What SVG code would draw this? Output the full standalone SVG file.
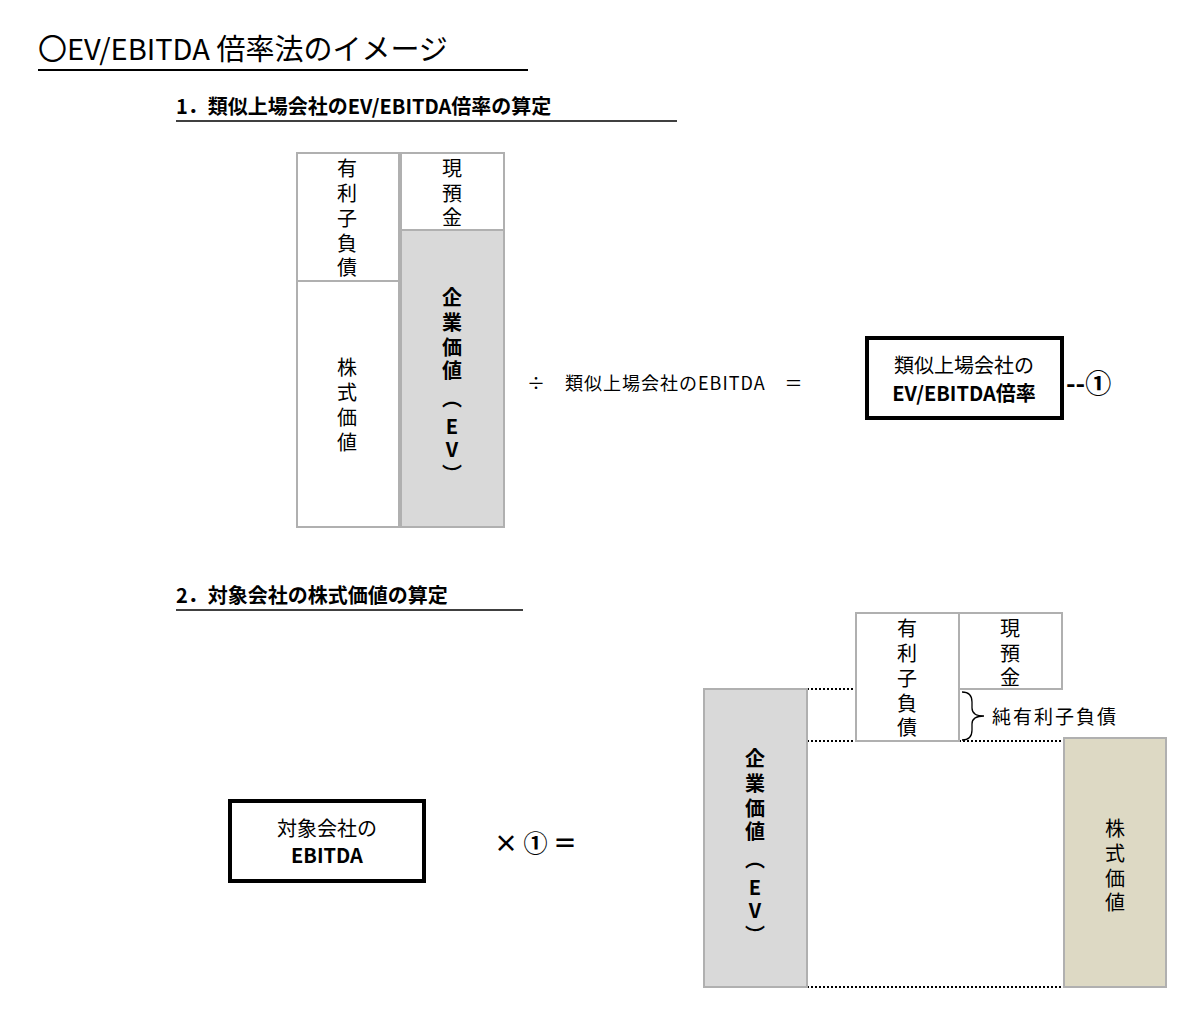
<svg xmlns="http://www.w3.org/2000/svg" width="1200" height="1020" viewBox="0 0 1200 1020">
<style>
text{font-family:"Noto Sans CJK JP","Liberation Sans",sans-serif;fill:#000}
.c{font-size:20px;text-anchor:middle}
.b{font-weight:bold}
.box{fill:#fff;stroke:#b0b0b0;stroke-width:2}
.ev{fill:#d9d9d9;stroke:#b0b0b0;stroke-width:2}
.eq{fill:#ddd9c4;stroke:#b0b0b0;stroke-width:2}
.dot{stroke:#000;stroke-width:2;stroke-dasharray:2 2;fill:none}
.thick{fill:#fff;stroke:#000;stroke-width:4}
</style>
<rect width="1200" height="1020" fill="#fff"/>
<g id="title">
<text x="38" y="60" font-size="29">〇EV/EBITDA 倍率法のイメージ</text>
<line x1="38" y1="70" x2="528" y2="70" stroke="#000" stroke-width="2"/>
<text x="176" y="114" font-size="20" class="b">1．類似上場会社のEV/EBITDA倍率の算定</text>
<line x1="176" y1="121" x2="677" y2="121" stroke="#000" stroke-width="1.5"/>
<text x="176" y="603" font-size="20" class="b">2．対象会社の株式価値の算定</text>
<line x1="176" y1="610" x2="523" y2="610" stroke="#000" stroke-width="1.5"/>
</g>
<g id="debt1">
<rect class="box" x="297" y="153" width="102" height="128"/>
<text class="c" x="347" y="176">有</text><text class="c" x="347" y="201">利</text><text class="c" x="347" y="226">子</text><text class="c" x="347" y="251">負</text><text class="c" x="347" y="275">債</text>
</g>
<g id="equity1">
<rect class="box" x="297" y="281" width="102" height="246"/>
<text class="c" x="347" y="375">株</text><text class="c" x="347" y="400">式</text><text class="c" x="347" y="425">価</text><text class="c" x="347" y="450">値</text>
</g>
<g id="cash1">
<rect class="box" x="401" y="153" width="103" height="77"/>
<text class="c" x="452" y="176">現</text><text class="c" x="452" y="201">預</text><text class="c" x="452" y="225">金</text>
</g>
<g id="ev1">
<rect class="ev" x="401" y="230" width="103" height="297"/>
<text class="c b" x="452" y="305">企</text><text class="c b" x="452" y="330">業</text><text class="c b" x="452" y="355">価</text><text class="c b" x="452" y="378">値</text>
<text class="c b" x="452" y="406">︵</text><text class="c b" x="452" y="434">E</text><text class="c b" x="452" y="457">V</text><text class="c b" x="452" y="482">︶</text>
</g>
<g id="formula1">
<text x="527" y="390" font-size="18" letter-spacing="1">÷　類似上場会社のEBITDA　＝</text>
</g>
<g id="multiple">
<rect class="thick" x="867" y="338" width="195" height="80"/>
<text class="c" x="964" y="373" font-size="20">類似上場会社の</text>
<text class="c b" x="964" y="401" font-size="19">EV/EBITDA倍率</text>
</g>
<text x="1066" y="393" font-size="26" class="b">--①</text>
<g id="target">
<rect class="thick" x="230" y="801" width="194" height="80"/>
<text class="c" x="327" y="836" font-size="19">対象会社の</text>
<text class="c b" x="327" y="863" font-size="17">EBITDA</text>
</g>
<text x="494" y="852" font-size="24" class="b">×  ①  ＝</text>
<g id="connectors">
<line class="dot" x1="807" y1="689" x2="856" y2="689"/>
<line class="dot" x1="959" y1="689" x2="1062" y2="689"/>
<line class="dot" x1="807" y1="741" x2="1064" y2="741"/>
<line class="dot" x1="807" y1="987" x2="1064" y2="987"/>
<path d="M962 692 Q972 692 972 702 L972 708 Q972 716 984 716 Q972 716 972 724 L972 730 Q972 740 962 740" fill="none" stroke="#000" stroke-width="1.3"/>
</g>
<g id="ev2">
<rect class="ev" x="704" y="689" width="103" height="298"/>
<text class="c b" x="755" y="766">企</text><text class="c b" x="755" y="791">業</text><text class="c b" x="755" y="816">価</text><text class="c b" x="755" y="839">値</text>
<text class="c b" x="755" y="867">︵</text><text class="c b" x="755" y="895">E</text><text class="c b" x="755" y="918">V</text><text class="c b" x="755" y="943">︶</text>
</g>
<g id="debt2">
<rect class="box" x="856" y="613" width="103" height="128"/>
<text class="c" x="907" y="636">有</text><text class="c" x="907" y="661">利</text><text class="c" x="907" y="686">子</text><text class="c" x="907" y="711">負</text><text class="c" x="907" y="735">債</text>
</g>
<g id="cash2">
<rect class="box" x="959" y="613" width="103" height="76"/>
<text class="c" x="1010" y="636">現</text><text class="c" x="1010" y="661">預</text><text class="c" x="1010" y="685">金</text>
</g>
<text id="netdebt" x="992" y="724" font-size="19" letter-spacing="2">純有利子負債</text>
<g id="equity2">
<rect class="eq" x="1064" y="738" width="102" height="249"/>
<text class="c" x="1115" y="836">株</text><text class="c" x="1115" y="861">式</text><text class="c" x="1115" y="886">価</text><text class="c" x="1115" y="910">値</text>
</g>
</svg>
